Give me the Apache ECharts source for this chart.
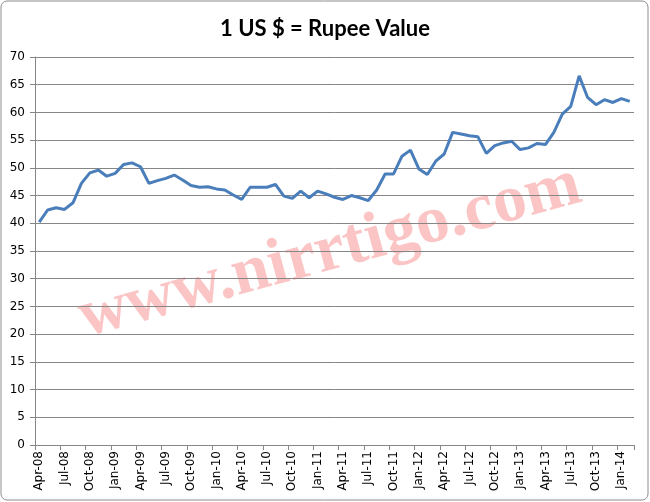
<!DOCTYPE html>
<html>
<head>
<meta charset="utf-8">
<script src="https://cdn.jsdelivr.net/npm/echarts@6/dist/echarts.min.js"></script>
<style>
    html, body { margin: 0; padding: 0; background: #fff; }
    #main { width: 650px; height: 502px; }
</style>
</head>
<body>
<div id="main"></div>
<script>
    // month labels, Apr-08 .. Feb-14
    var months = [
        'Apr-08', 'May-08', 'Jun-08', 'Jul-08', 'Aug-08', 'Sep-08', 'Oct-08', 'Nov-08', 'Dec-08',
        'Jan-09', 'Feb-09', 'Mar-09', 'Apr-09', 'May-09', 'Jun-09', 'Jul-09', 'Aug-09', 'Sep-09', 'Oct-09', 'Nov-09', 'Dec-09',
        'Jan-10', 'Feb-10', 'Mar-10', 'Apr-10', 'May-10', 'Jun-10', 'Jul-10', 'Aug-10', 'Sep-10', 'Oct-10', 'Nov-10', 'Dec-10',
        'Jan-11', 'Feb-11', 'Mar-11', 'Apr-11', 'May-11', 'Jun-11', 'Jul-11', 'Aug-11', 'Sep-11', 'Oct-11', 'Nov-11', 'Dec-11',
        'Jan-12', 'Feb-12', 'Mar-12', 'Apr-12', 'May-12', 'Jun-12', 'Jul-12', 'Aug-12', 'Sep-12', 'Oct-12', 'Nov-12', 'Dec-12',
        'Jan-13', 'Feb-13', 'Mar-13', 'Apr-13', 'May-13', 'Jun-13', 'Jul-13', 'Aug-13', 'Sep-13', 'Oct-13', 'Nov-13', 'Dec-13',
        'Jan-14', 'Feb-14'
    ];

    // rupees per US dollar
    var rupeeValue = [
        40.2, 42.4, 42.8, 42.5, 43.7, 47.2, 49.1, 49.6, 48.5,
        49.0, 50.6, 50.9, 50.2, 47.2, 47.7, 48.1, 48.7, 47.8, 46.8, 46.5, 46.6,
        46.2, 46.0, 45.1, 44.3, 46.5, 46.5, 46.5, 47.0, 44.9, 44.5, 45.8, 44.6,
        45.8, 45.3, 44.7, 44.3, 45.0, 44.6, 44.1, 46.0, 48.9, 48.9, 52.1, 53.2,
        49.8, 48.8, 51.2, 52.5, 56.4, 56.1, 55.8, 55.6, 52.6, 54.0, 54.5, 54.8,
        53.3, 53.6, 54.4, 54.2, 56.4, 59.7, 61.1, 66.6, 62.7, 61.4, 62.3, 61.8,
        62.5, 62.0
    ];

    var chartTitle = '1 US $ = Rupee Value';
    var watermark = 'www.nirrtigo.com';

    var myChart = echarts.init(document.getElementById('main'), null, {renderer: 'canvas'});

    var axisFont = {fontFamily: 'DejaVu Sans', fontSize: 12, color: '#000'};

    var option = {
        animation: false,
        title: {
            text: chartTitle,
            left: 'center',
            top: 13,
            textStyle: {
                fontFamily: 'Lato',
                fontSize: 22,
                fontWeight: 'bold',
                color: '#000'
            }
        },
        grid: {
            left: 35,
            right: 16,
            top: 57,
            bottom: 57
        },
        xAxis: {
            type: 'category',
            data: months,
            boundaryGap: true,
            axisLine: {lineStyle: {color: '#868686', width: 1}},
            axisTick: {
                show: true,
                interval: 2,
                length: 5,
                lineStyle: {color: '#868686'}
            },
            axisLabel: Object.assign({
                interval: 2,
                rotate: 90,
                margin: 6
            }, axisFont),
            splitLine: {show: false}
        },
        yAxis: {
            type: 'value',
            min: 0,
            max: 70,
            interval: 5,
            axisLine: {show: true, lineStyle: {color: '#868686', width: 1}},
            axisTick: {show: true, length: 5, lineStyle: {color: '#868686'}},
            axisLabel: Object.assign({margin: 10}, axisFont),
            splitLine: {lineStyle: {color: '#868686', width: 1}}
        },
        graphic: [
            {
                // outer chart border
                type: 'rect',
                shape: {x: 1, y: 1, width: 647, height: 499, r: 6},
                style: {fill: 'none', stroke: '#8c8c8c', lineWidth: 1},
                z: -20
            },
            {
                // watermark text, sits under the grid lines
                type: 'text',
                x: 330,
                y: 252,
                rotation: 0.265,
                z: -10,
                style: {
                    text: watermark,
                    x: 0,
                    y: 0,
                    align: 'center',
                    verticalAlign: 'middle',
                    fontFamily: 'Liberation Serif',
                    fontWeight: 'bold',
                    fontSize: 67,
                    fill: 'rgba(250, 175, 175, 0.72)'
                }
            }
        ],
        series: [
            {
                name: 'Rupee',
                type: 'line',
                data: rupeeValue,
                symbol: 'none',
                smooth: false,
                lineStyle: {color: '#4a7ebb', width: 3},
                z: 3
            }
        ]
    };

    myChart.setOption(option);
</script>
</body>
</html>
